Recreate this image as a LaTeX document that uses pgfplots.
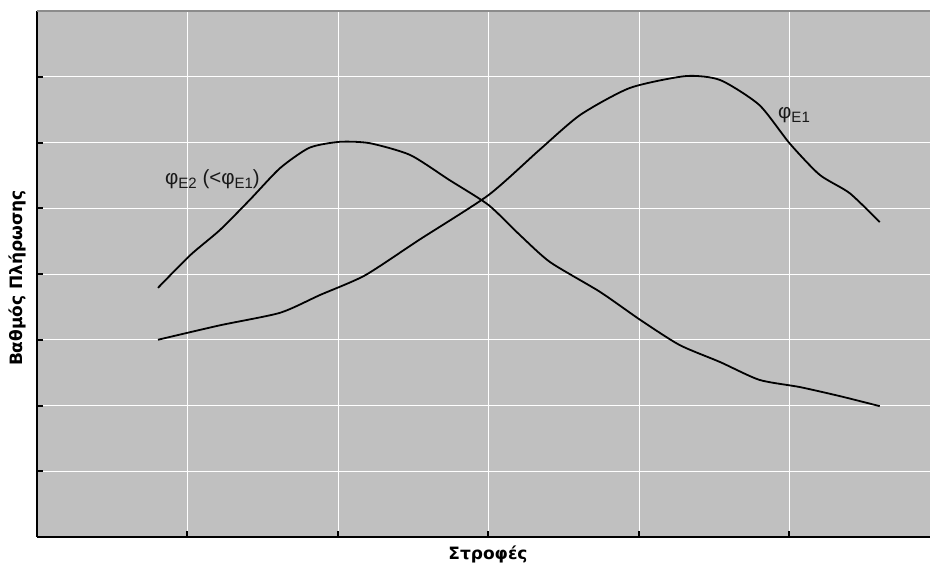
\documentclass[border=0pt]{standalone}
\usepackage{fontspec}
\setmainfont{Liberation Sans}
\newfontfamily\labfont{DejaVu Sans}
\usepackage{pgfplots}
\pgfplotsset{compat=1.18}
\definecolor{bg}{HTML}{C0C0C0}
\definecolor{topline}{HTML}{8C8C8C}
\newcommand{\sub}[1]{\raisebox{-3.5pt}{\fontsize{15}{15}\selectfont #1}}
\begin{document}
\begin{tikzpicture}[x=1pt,y=1pt]
\useasboundingbox (0,0) rectangle (930,568);
\begin{axis}[
  at={(37pt,31pt)}, anchor=south west,
  scale only axis, width=893pt, height=526pt,
  xmin=0, xmax=5.934, ymin=0, ymax=8,
  xtick={1,2,3,4,5}, ytick={0,1,2,3,4,5,6,7,8},
  xticklabels={}, yticklabels={},
  axis background/.style={fill=bg},
  grid=major, major grid style={white, line width=0.8pt},
  axis x line*=bottom, axis y line*=left,
  axis line style={-, black, line width=2pt},
  tick style={black, line width=2pt},
  major tick length=6pt,
  tick align=inside,
  clip=false,
]
\draw[topline, line width=1.2pt] (rel axis cs:0,1) -- (rel axis cs:1,1);
\addplot[black, line width=1.8pt, smooth, tension=0.4] coordinates {
(0.804,3.00) (1.216,3.22) (1.615,3.41) (1.88,3.68) (2.18,3.98) (2.54,4.52)
(3.00,5.20) (3.34,5.89) (3.61,6.42) (3.94,6.83) (4.31,7.01) (4.54,6.95)
(4.80,6.57) (5.00,5.99) (5.20,5.51) (5.40,5.23) (5.60,4.79)};
\addplot[black, line width=1.8pt, smooth, tension=0.4] coordinates {
(0.804,3.79) (1.02,4.29) (1.216,4.67) (1.415,5.13) (1.615,5.61) (1.81,5.92)
(2.01,6.01) (2.21,5.99) (2.48,5.81) (2.74,5.43) (3.00,5.05) (3.21,4.59)
(3.41,4.18) (3.74,3.73) (4.01,3.30) (4.27,2.92) (4.54,2.66) (4.80,2.39)
(5.07,2.28) (5.34,2.14) (5.60,1.99)};
\end{axis}
\node[anchor=base west, inner sep=0pt, font=\fontsize{20.5}{20.5}\selectfont, text=black!90] at (165,383) {φ\sub{E2} (<φ\sub{E1})};
\node[anchor=base west, inner sep=0pt, font=\fontsize{20.5}{20.5}\selectfont, text=black!90] at (778,449) {φ\sub{E1}};
\node[font=\labfont\bfseries\fontsize{17}{17}\selectfont] at (488,14) {Στροφές};
\node[font=\labfont\bfseries\fontsize{17}{17}\selectfont, rotate=90] at (17,290) {Βαθμός Πλήρωσης};
\end{tikzpicture}
\end{document}
